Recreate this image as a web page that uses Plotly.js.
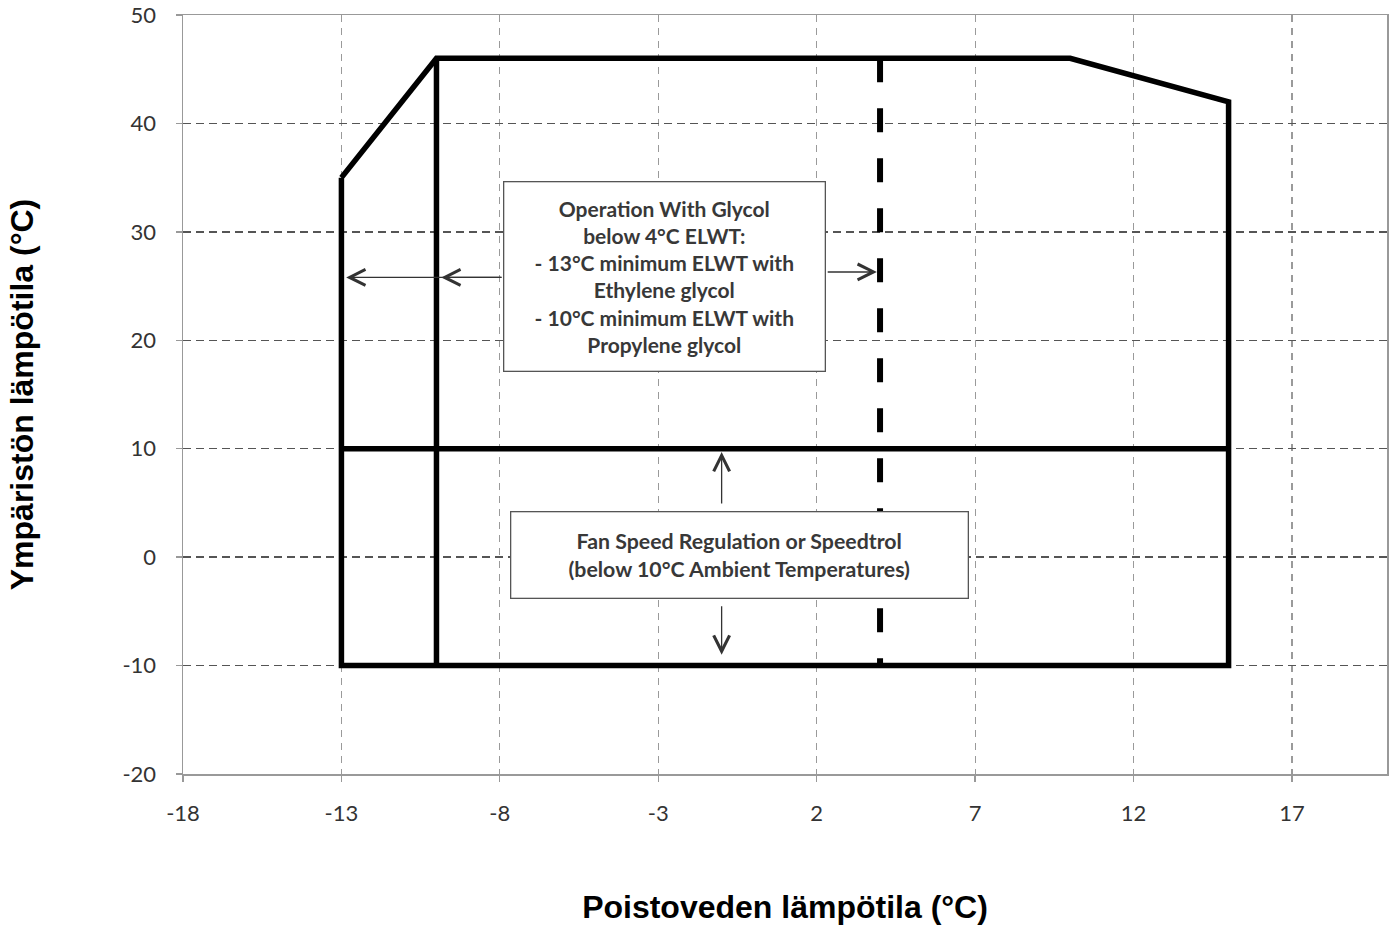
<!DOCTYPE html>
<html>
<head>
<meta charset="utf-8">
<script src="https://cdn.plot.ly/plotly-3.0.1.min.js"></script>
<style>
html, body { margin: 0; padding: 0; background: #fff; }
#chart { width: 1396px; height: 929px; }
</style>
</head>
<body>
<div id="chart"></div>
<script>
// ---- data ----
const xTickVals = [-18, -13, -8, -3, 2, 7, 12, 17];
const yTickVals = [-20, -10, 0, 10, 20, 30, 40, 50];

// operating envelope outline
const envelopeX = [-13, -10, 10, 15, 15, -13, -13];
const envelopeY = [35, 46, 46, 42, -10, -10, 35];

// glycol limit (vertical solid at -10)
const glycolLimitX = [-10, -10];
const glycolLimitY = [46, -10];

// fan speed regulation limit (horizontal at 10)
const fanLimitX = [-13, 15];
const fanLimitY = [10, 10];

// 4°C ELWT limit (thick dashed)
const elwtLimitX = [4, 4];
const elwtLimitY = [46, -10];

// note boxes
const noteTexts = [
  "Operation With Glycol<br>below 4°C ELWT:<br>- 13°C minimum ELWT with<br>Ethylene glycol<br>- 10°C minimum ELWT with<br>Propylene glycol",
  "Fan Speed Regulation or Speedtrol<br>(below 10°C Ambient Temperatures)"
];
const noteX = [-2.8, -0.45];
const noteY = [25.9, 0.2];

// arrows: head (x,y) and tail (ax,ay)
const arrowHeadX = [-12.85, -9.85, 3.9, -1.0, -1.0];
const arrowHeadY = [25.8, 25.8, 26.3, 9.7, -9.0];
const arrowTailX = [-7.9, -7.9, 2.3, -1.0, -1.0];
const arrowTailY = [25.8, 25.8, 26.3, 4.8, -4.4];

// ---- traces ----
const traces = [
  { x: envelopeX, y: envelopeY, mode: "lines", line: { color: "#000", width: 5.5 }, hoverinfo: "skip", showlegend: false },
  { x: glycolLimitX, y: glycolLimitY, mode: "lines", line: { color: "#000", width: 5.5 }, hoverinfo: "skip", showlegend: false },
  { x: fanLimitX, y: fanLimitY, mode: "lines", line: { color: "#000", width: 5.5 }, hoverinfo: "skip", showlegend: false },
  { x: elwtLimitX, y: elwtLimitY, mode: "lines", line: { color: "#000", width: 6, dash: "24px,26px" }, hoverinfo: "skip", showlegend: false }
];

const boxW = [318, 454];
const boxH = [186, 83];
const boxFont = [21, 21.3];

const annotations = [];
noteTexts.forEach((t, i) => {
  annotations.push({
    x: noteX[i], y: noteY[i], xref: "x", yref: "y",
    text: t, showarrow: false,
    width: boxW[i], height: boxH[i],
    bgcolor: "#fff", bordercolor: "#555", borderwidth: 1.3, borderpad: 1,
    font: { family: "Lato, 'Open Sans', sans-serif", size: boxFont[i], color: "#383838", weight: "bold" },
    align: "center", valign: "middle"
  });
});
arrowHeadX.forEach((hx, i) => {
  annotations.push({
    x: hx, y: arrowHeadY[i], xref: "x", yref: "y",
    ax: arrowTailX[i], ay: arrowTailY[i], axref: "x", ayref: "y",
    text: "", showarrow: true,
    arrowhead: 5, arrowsize: 2.4, arrowwidth: 1.3, arrowcolor: "#333", standoff: 0
  });
});

const tickFont = { family: "Lato, 'Open Sans', sans-serif", size: 22, color: "#333" };
const titleFont = { family: "'Liberation Sans', Arial, sans-serif", size: 32, color: "#000", weight: "bold" };

const layout = {
  width: 1396, height: 929,
  margin: { l: 183, r: 9, t: 15, b: 155 },
  paper_bgcolor: "#fff", plot_bgcolor: "#fff",
  showlegend: false,
  xaxis: {
    range: [-18, 20], tickvals: xTickVals, ticktext: xTickVals.map(String),
    tickfont: tickFont, ticks: "outside", ticklen: 6, tickcolor: "#999", tickwidth: 1.3,
    ticklabelstandoff: 13,
    showline: true, linecolor: "#999", linewidth: 1.5, mirror: true,
    showgrid: true, gridcolor: "#9a9a9a", gridwidth: 1.2, griddash: "7px,6px",
    zeroline: false, fixedrange: true,
    title: { text: "Poistoveden lämpötila (°C)", font: titleFont, standoff: 70 }
  },
  yaxis: {
    range: [-20, 50], tickvals: yTickVals, ticktext: yTickVals.map(String),
    tickfont: tickFont, ticks: "outside", ticklen: 6, tickcolor: "#999", tickwidth: 1.3,
    ticklabelstandoff: 15,
    showline: true, linecolor: "#999", linewidth: 1.5, mirror: true,
    showgrid: true, gridcolor: "#555", gridwidth: 1.3, griddash: "8px,5px",
    zeroline: false, fixedrange: true,
    title: { text: "Ympäristön lämpötila (°C)", font: titleFont, standoff: 79 }
  },
  annotations: annotations
};

Plotly.newPlot("chart", traces, layout, { displayModeBar: false, staticPlot: true });
</script>
</body>
</html>
